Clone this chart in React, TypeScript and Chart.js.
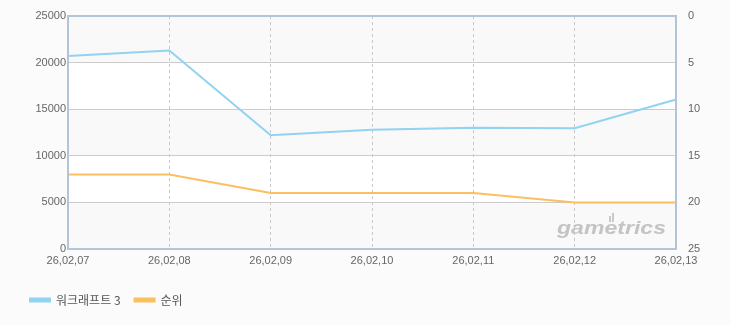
import React, { useEffect, useRef } from "react";
import { Chart, registerables } from "chart.js";

Chart.register(...registerables);

const categories = ["26,02,07", "26,02,08", "26,02,09", "26,02,10", "26,02,11", "26,02,12", "26,02,13"];
const playersLabel = "워크래프트 3";
const playersValues = [20700, 21300, 12200, 12800, 13000, 12950, 16050];
const rankLabel = "순위";
const rankValues = [17, 17, 19, 19, 19, 20, 20];
const leftTicks = [0, 5000, 10000, 15000, 20000, 25000];
const watermarkText = "gametrics";

const FONT = "'Liberation Sans', Arial, 'Noto Sans CJK KR', sans-serif";
const LEGEND_FONT = "'Noto Sans CJK KR', 'Liberation Sans', sans-serif";

const bandsPlugin = {
  id: "bands",
  beforeDraw(chart: any) {
    const { ctx, chartArea } = chart;
    const y = chart.scales.y;
    ctx.save();
    ctx.fillStyle = "#ffffff";
    ctx.fillRect(chartArea.left, chartArea.top, chartArea.right - chartArea.left, chartArea.bottom - chartArea.top);
    ctx.fillStyle = "#f9f9f9";
    for (let i = 0; i < leftTicks.length - 1; i += 2) {
      const a = y.getPixelForValue(leftTicks[i]);
      const b = y.getPixelForValue(leftTicks[i + 1]);
      ctx.fillRect(chartArea.left, b, chartArea.right - chartArea.left, a - b);
    }
    ctx.restore();
  },
  beforeDatasetsDraw(chart: any) {
    const { ctx, chartArea } = chart;
    ctx.save();
    const xr = chartArea.right - 10;
    const base = chartArea.bottom - 15;
    ctx.font = `italic bold 19px ${FONT}`;
    const w = ctx.measureText(watermarkText).width;
    const sx = 109 / w;
    ctx.translate(xr - 109, base);
    ctx.scale(sx, 1);
    ctx.fillStyle = "#c4c4c4";
    ctx.textAlign = "left";
    ctx.textBaseline = "alphabetic";
    ctx.fillText(watermarkText, 0, 0);
    ctx.restore();
    ctx.save();
    ctx.fillStyle = "#c8c8c8";
    ctx.fillRect(xr - 57, base - 18, 2, 6);
    ctx.fillRect(xr - 54, base - 21, 2, 9);
    ctx.restore();
  },
  afterDraw(chart: any) {
    const { ctx, chartArea } = chart;
    ctx.save();
    ctx.strokeStyle = "#b3c4d6";
    ctx.lineWidth = 2;
    ctx.strokeRect(chartArea.left, chartArea.top, chartArea.right - chartArea.left, chartArea.bottom - chartArea.top);
    ctx.restore();
  },
};

export default function App() {
  const ref = useRef<HTMLCanvasElement>(null);
  useEffect(() => {
    document.body.style.margin = "0";
    document.body.style.background = "#fbfbfb";
    const chart = new Chart(ref.current!, {
      type: "line",
      data: {
        labels: categories,
        datasets: [
          {
            label: playersLabel,
            data: playersValues,
            borderColor: "#92d2f2",
            backgroundColor: "#92d2f2",
            borderWidth: 2,
            pointRadius: 0,
            tension: 0,
            yAxisID: "y",
          },
          {
            label: rankLabel,
            data: rankValues,
            borderColor: "#fbbf60",
            backgroundColor: "#fbbf60",
            borderWidth: 2,
            pointRadius: 0,
            tension: 0,
            yAxisID: "y1",
          },
        ],
      },
      options: {
        animation: false,
        responsive: false,
        layout: { padding: { top: 16, left: 16, right: 0, bottom: 9 } },
        plugins: {
          legend: {
            position: "bottom",
            align: "start",
            labels: {
              boxWidth: 20,
              boxHeight: 3,
              padding: 14,
              color: "#555555",
              font: { family: LEGEND_FONT, size: 12 },
            },
          },
          tooltip: { enabled: false },
        },
        scales: {
          x: {
            offset: false,
            grid: {
              color: (c: any) => (c.index === 0 || c.index === categories.length - 1 ? "rgba(0,0,0,0)" : "#c8c8c8"),
              tickLength: 0,
            },
            border: { display: false, dash: [3, 3] },
            ticks: { color: "#666666", font: { family: FONT, size: 11 }, padding: 5, maxRotation: 0, autoSkip: false },
            afterFit: (axis: any) => {
              axis.height = 31;
            },
          },
          y: {
            position: "left",
            min: 0,
            max: 25000,
            grid: { color: "#cccccc", tickLength: 0 },
            border: { display: false },
            ticks: {
              stepSize: 5000,
              color: "#666666",
              font: { family: FONT, size: 11 },
              padding: 2,
              callback: (v: any) => String(v),
            },
            afterFit: (axis: any) => {
              axis.width = 52;
            },
          },
          y1: {
            position: "right",
            reverse: true,
            min: 0,
            max: 25,
            grid: { display: false },
            border: { display: false },
            ticks: { stepSize: 5, color: "#666666", font: { family: FONT, size: 11 }, padding: 4 },
            afterFit: (axis: any) => {
              axis.width = 54;
            },
          },
        },
      },
      plugins: [bandsPlugin],
    } as any);
    return () => chart.destroy();
  }, []);
  return <canvas ref={ref} width={730} height={325} style={{ display: "block" }} />;
}
